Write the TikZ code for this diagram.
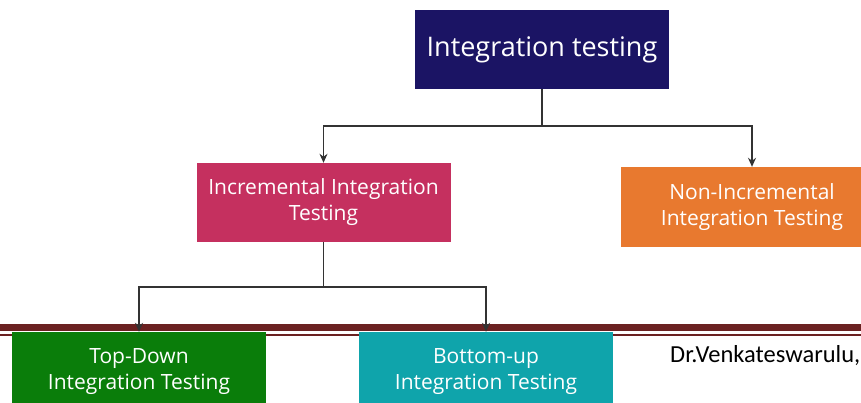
\documentclass[tikz,border=0pt]{standalone}
\usepackage{fontspec}
\setmainfont{Open Sans}
\newfontfamily\footerfont{Carlito}
\usetikzlibrary{arrows.meta}

\definecolor{rootblue}{HTML}{1B1464}
\definecolor{incrpink}{HTML}{C5305F}
\definecolor{nonorange}{HTML}{E8792F}
\definecolor{topgreen}{HTML}{0A7D0A}
\definecolor{botteal}{HTML}{0FA4AB}
\definecolor{rulebrown}{HTML}{6B2121}

\begin{document}
\begin{tikzpicture}[
  x=1pt, y=-1pt,
  box/.style={
    minimum width=254pt, minimum height=79pt, inner sep=2pt,
    align=center, text=white, font=\fontsize{21}{26}\selectfont
  },
  link/.style={line width=1.3pt, draw=black!80},
  arrow/.style={link, -{Stealth[length=9pt, width=8pt]}},
  footer/.style={font=\footerfont\fontsize{24.5}{28}\selectfont, inner sep=0pt}
]
\useasboundingbox (0,0) rectangle (861,402);
\clip (0,0) rectangle (861,402);

% page rule behind the bottom row
\draw[rulebrown, line width=7pt] (0,327.5) -- (861,327.5);
\draw[rulebrown, line width=1.5pt] (0,334.8) -- (861,334.8);

\node[box, fill=rootblue, font=\fontsize{27}{32}\selectfont] (root) at (542,49.5) {Integration testing};
\node[box, fill=incrpink] (incr) at (323.5,202.5) {Incremental Integration\\Testing};
\node[box, fill=nonorange, minimum width=262pt, minimum height=80pt] (nonincr) at (752,207) {Non-Incremental\\Integration Testing};
\node[box, fill=topgreen, minimum height=80pt] (topdown) at (139,372) {Top-Down\\Integration Testing};
\node[box, fill=botteal, minimum height=80pt] (bottomup) at (486,372) {Bottom-up\\Integration Testing};
\node[footer, anchor=base west] (author) at (670,362) {Dr.Venkateswarulu,};

% branches
\coordinate (split1) at (542,126);
\coordinate (split2) at (323.5,287);
\draw[link] (root.south) -- (split1);
\draw[arrow] (split1) -| (incr.north);
\draw[arrow] (split1) -| (nonincr.north);
\draw[link] (incr.south) -- (split2);
\draw[arrow] (split2) -| (topdown.north);
\draw[arrow] (split2) -| (bottomup.north);

\end{tikzpicture}
\end{document}
